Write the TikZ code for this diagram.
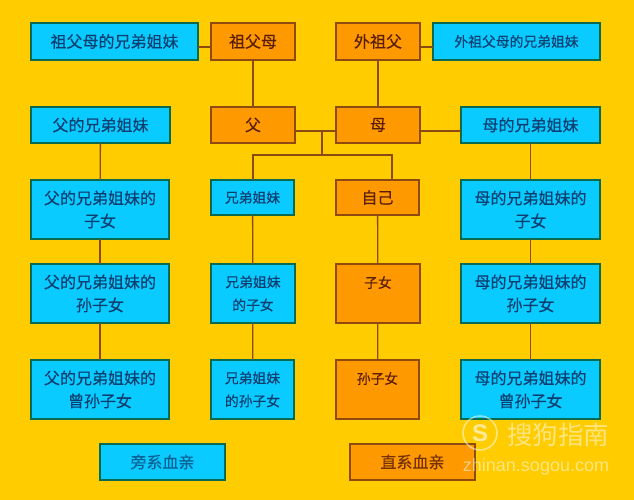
\documentclass[tikz,border=0pt]{standalone}
\usepackage{fontspec}
\setmainfont[FakeBold=0.35]{Noto Sans CJK SC}
\newfontfamily\latinwm{Liberation Sans}
\newfontfamily\cjkwm{Noto Sans CJK SC}
\definecolor{bgy}{HTML}{FFCC00}
\definecolor{cyanbox}{HTML}{0ACBFF}
\definecolor{orangebox}{HTML}{FF9900}
\definecolor{cyanedge}{HTML}{0A6A50}
\definecolor{orangeedge}{HTML}{8F4A10}
\definecolor{linkc}{HTML}{8A4B12}
\definecolor{cyantext}{HTML}{0A3F70}
\definecolor{orangetext}{HTML}{5A1E08}
\tikzset{
  base/.style={rectangle,draw,line width=1.4pt,inner sep=0pt,outer sep=0pt,align=center,
    font=\fontsize{14.5}{23}\selectfont},
  side/.style={base,fill=cyanbox,draw=cyanedge,text=cyantext},
  direct/.style={base,fill=orangebox,draw=orangeedge,text=orangetext},
  big/.style={font=\fontsize{16}{23}\selectfont},
  small/.style={font=\fontsize{13.8}{23}\selectfont},
  link/.style={draw=linkc,line width=1.3pt},
  wm/.style={text=white,text opacity=0.5,inner sep=0pt}
}
\newcommand{\bx}[8]{\node[#1,#2,minimum width=#7pt-#5pt,minimum height=#8pt-#6pt] (#3) at ({(#5+#7)/2},{(#6+#8)/2}) {#4};}
\begin{document}
\begin{tikzpicture}[x=1pt,y=-1pt]
\useasboundingbox[fill=bgy] (0,0) rectangle (634,500);
% row 1
\bx{side}{big}{ga}{祖父母的兄弟姐妹}{31}{23}{198}{60}
\bx{direct}{big}{gm}{祖父母}{211}{23}{295}{60}
\bx{direct}{big}{wg}{外祖父}{336}{23}{420}{60}
\bx{side}{small}{wa}{外祖父母的兄弟姐妹}{433}{23}{600}{60}
% row 2
\bx{side}{big}{fs}{父的兄弟姐妹}{31}{107}{170}{143}
\bx{direct}{big}{fa}{父}{211}{107}{295}{143}
\bx{direct}{big}{mo}{母}{336}{107}{420}{143}
\bx{side}{big}{ms}{母的兄弟姐妹}{461}{107}{600}{143}
% row 3
\bx{side}{big}{fc}{父的兄弟姐妹的\\子女}{31}{180}{169}{239}
\bx{side}{small}{si}{兄弟姐妹}{211}{180}{294}{215}
\bx{direct}{big}{me}{自己}{336}{180}{419}{215}
\bx{side}{big}{mc}{母的兄弟姐妹的\\子女}{461}{180}{600}{239}
% row 4
\bx{side}{big}{fg}{父的兄弟姐妹的\\孙子女}{31}{264}{169}{323}
\bx{side}{small}{sc}{兄弟姐妹\\的子女}{211}{264}{295}{323}
\bx{direct}{small}{ch}{子女\\\mbox{}}{336}{264}{420}{323}
\bx{side}{big}{mg}{母的兄弟姐妹的\\孙子女}{461}{264}{600}{323}
% row 5
\bx{side}{big}{fe}{父的兄弟姐妹的\\曾孙子女}{31}{360}{169}{419}
\bx{side}{small}{sg}{兄弟姐妹\\的孙子女}{211}{360}{294}{419}
\bx{direct}{small}{gc}{孙子女\\\mbox{}}{336}{360}{419}{419}
\bx{side}{big}{me2}{母的兄弟姐妹的\\曾孙子女}{461}{360}{600}{419}
% legend
\bx{side}{big,text=cyantext!75!cyanbox}{lg1}{旁系血亲}{100}{444}{225}{480}
\bx{direct}{big,text=orangetext!85!orangebox}{lg2}{直系血亲}{350}{444}{475}{480}
% connector levels
\coordinate (top) at (0,47);
\coordinate (mid) at (0,131);
\coordinate (j1) at (322,131);
\coordinate (j2) at (322,155);
\coordinate (jl) at (253,155);
\coordinate (jr) at (392,155);
\draw[link] (ga.east |- top) -- (gm.west |- top);
\draw[link] (wg.east |- top) -- (wa.west |- top);
\draw[link] (gm) -- (fa);
\draw[link] (wg) -- (mo);
\draw[link] (fa.east |- mid) -- (mo.west |- mid);
\draw[link] (mo.east |- mid) -- (ms.west |- mid);
\draw[link] (j1) -- (j2);
\draw[link] (si.north -| jl) -- (jl) -- (jr) -- (me.north -| jr);
\draw[link] (fs) -- (fc);
\draw[link] (fc) -- (fg);
\draw[link] (fg) -- (fe);
\draw[link] (si) -- (sc);
\draw[link] (sc) -- (sg);
\draw[link] (me) -- (ch);
\draw[link] (ch) -- (gc);
\draw[link] (ms) -- (mc);
\draw[link] (mc) -- (mg);
\draw[link] (mg) -- (me2);
% watermark
\node[circle,draw=white,draw opacity=0.5,line width=1.6pt,minimum size=34pt,inner sep=0pt,
  text=white,text opacity=0.6,font=\latinwm\bfseries\fontsize{24}{24}\selectfont] (wmlogo) at (480,433) {S};
\node[wm,font=\cjkwm\fontsize{25.5}{25.5}\selectfont] (wmcn) at (558,435) {搜狗指南};
\node[wm,font=\latinwm\fontsize{18}{18}\selectfont] (wmen) at (536,467) {zhinan.sogou.com};
\end{tikzpicture}
\end{document}
